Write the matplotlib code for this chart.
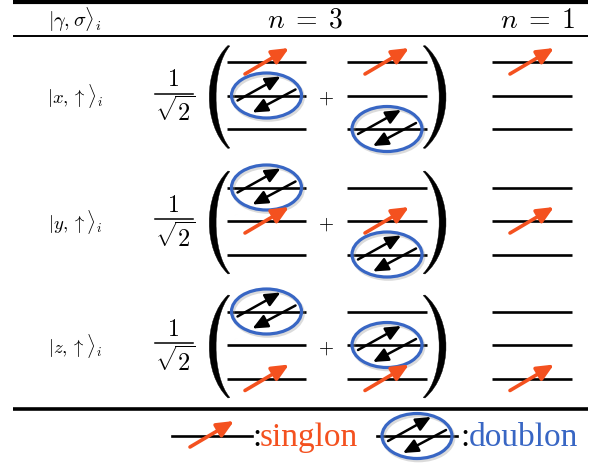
import matplotlib
matplotlib.use("Agg")
import matplotlib.pyplot as plt
from matplotlib.patches import Ellipse, PathPatch
from matplotlib.path import Path

plt.rcParams["mathtext.fontset"] = "cm"

# =========================
# data
# =========================
header_labels = [r"$|\gamma,\sigma\rangle_i$", r"$n\;=\;3$", r"$n\;=\;1$"]
row_labels = [r"$|x,\uparrow\rangle_i$", r"$|y,\uparrow\rangle_i$", r"$|z,\uparrow\rangle_i$"]

# level index: 0 = top, 1 = middle, 2 = bottom
term1_singlon = [0, 1, 2]
term1_doublon = [1, 0, 0]
term2_singlon = [0, 1, 2]
term2_doublon = [2, 2, 1]
n1_singlon = [0, 1, 2]

legend_labels = ["singlon", "doublon"]

# =========================
# style / layout (pixel coordinates)
# =========================
RED = "#f4511f"
BLUE = "#3866c4"
W, H = 606, 464

row_y = [96.5, 222, 346]
level_dy = [-33.5, 0, 33.5]
group_x = {"t1": (227, 306), "t2": (347, 427), "n1": (492, 572)}

fig = plt.figure(figsize=(W / 100, H / 100), dpi=100)
ax = fig.add_axes([0, 0, 1, 1])
ax.set_xlim(0, W)
ax.set_ylim(H, 0)
ax.axis("off")


def singlon(x0, y, lw=2.6):
    ax.annotate("", xy=(x0 + 62, y - 14), xytext=(x0 + 18, y + 12),
                arrowprops=dict(arrowstyle="-|>,head_length=1.0,head_width=0.45",
                                mutation_scale=10, lw=lw, color=RED,
                                shrinkA=0, shrinkB=0), zorder=5)


def doublon(cx, y):
    # faint shadow
    ax.add_patch(Ellipse((cx + 1.5, y + 2), 70, 45, fill=False,
                         ec="0.6", lw=2.6, alpha=0.35, zorder=2))
    ax.add_patch(Ellipse((cx, y), 70, 45, fill=False, ec=BLUE, lw=2.3, zorder=3))
    kw = dict(arrowstyle="-|>,head_length=1.0,head_width=0.45",
              mutation_scale=9, lw=1.8, color="black", shrinkA=0, shrinkB=0)
    ax.annotate("", xy=(cx + 14, y - 19), xytext=(cx - 29, y + 5), arrowprops=kw, zorder=4)
    ax.annotate("", xy=(cx - 14, y + 17), xytext=(cx + 29, y - 6), arrowprops=kw, zorder=4)


def levels(key, yc):
    x0, x1 = group_x[key]
    for d in level_dy:
        ax.plot([x0, x1], [yc + d, yc + d], color="black", lw=1.9, zorder=1,
                solid_capstyle="butt")


def paren(yc, left=True):
    top, bot = yc - 50, yc + 53
    if left:
        xe, co, ci = 229, 203, 211.5
        verts = [(xe - 1, top), (co, top + 24), (co, bot - 24), (xe - 1, bot),
                 (xe + 0.8, bot - 0.5),
                 (ci, bot - 22), (ci, top + 22), (xe + 0.8, top + 0.5), (xe - 1, top)]
    else:
        xe, co, ci = 424, 453, 444.5
        verts = [(xe + 1, top), (co, top + 24), (co, bot - 24), (xe + 1, bot),
                 (xe - 0.8, bot - 0.5),
                 (ci, bot - 22), (ci, top + 22), (xe - 0.8, top + 0.5), (xe + 1, top)]
    codes = [Path.MOVETO, Path.CURVE4, Path.CURVE4, Path.CURVE4, Path.LINETO,
             Path.CURVE4, Path.CURVE4, Path.CURVE4, Path.CLOSEPOLY]
    ax.add_patch(PathPatch(Path(verts, codes), fc="black", ec="black", lw=0.3))


# =========================
# table rules and header
# =========================
ax.plot([13, 588], [3, 3], color="black", lw=3.0, solid_capstyle="butt")
ax.plot([13, 588], [37, 37], color="black", lw=1.4, solid_capstyle="butt")
ax.plot([13, 588], [409.5, 409.5], color="black", lw=2.6, solid_capstyle="butt")

ax.text(75, 20, header_labels[0], fontsize=14.5, ha="center", va="center")
ax.text(305, 20, header_labels[1], fontsize=20, ha="center", va="center")
ax.text(538, 20, header_labels[2], fontsize=20, ha="center", va="center")

# =========================
# rows
# =========================
for r, yc in enumerate(row_y):
    ax.text(75, yc, row_labels[r], fontsize=13.5, ha="center", va="center")

    # 1/sqrt(2)
    ax.text(173, yc - 17, r"$1$", fontsize=17, ha="center", va="center")
    ax.plot([155, 193], [yc - 2, yc - 2], color="black", lw=1.1)
    ax.text(175, yc + 15, r"$\sqrt{2}$", fontsize=17.5, ha="center", va="center")

    paren(yc, left=True)
    paren(yc, left=False)
    ax.text(326, yc + 2, r"$+$", fontsize=14, ha="center", va="center")

    for key, s_lev, d_lev in [("t1", term1_singlon[r], term1_doublon[r]),
                              ("t2", term2_singlon[r], term2_doublon[r])]:
        levels(key, yc)
        x0, x1 = group_x[key]
        doublon((x0 + x1) / 2, yc + level_dy[d_lev])
        singlon(x0, yc + level_dy[s_lev])

    levels("n1", yc)
    singlon(group_x["n1"][0], yc + level_dy[n1_singlon[r]])

# =========================
# legend
# =========================
ly = 437
ax.plot([172, 252], [ly, ly], color="black", lw=1.9)
singlon(172, ly - 1)
ax.text(252, ly + 1, ":", fontsize=24, family="Liberation Serif", ha="left", va="center")
ax.text(260, ly + 1, legend_labels[0], fontsize=24, family="Liberation Serif",
        color=RED, ha="left", va="center")

ax.plot([377, 457], [ly, ly], color="black", lw=1.9)
doublon(417, ly)
ax.text(460, ly + 1, ":", fontsize=24, family="Liberation Serif", ha="left", va="center")
ax.text(469, ly + 1, legend_labels[1], fontsize=24, family="Liberation Serif",
        color=BLUE, ha="left", va="center")

fig.savefig("out.png", dpi=100)
